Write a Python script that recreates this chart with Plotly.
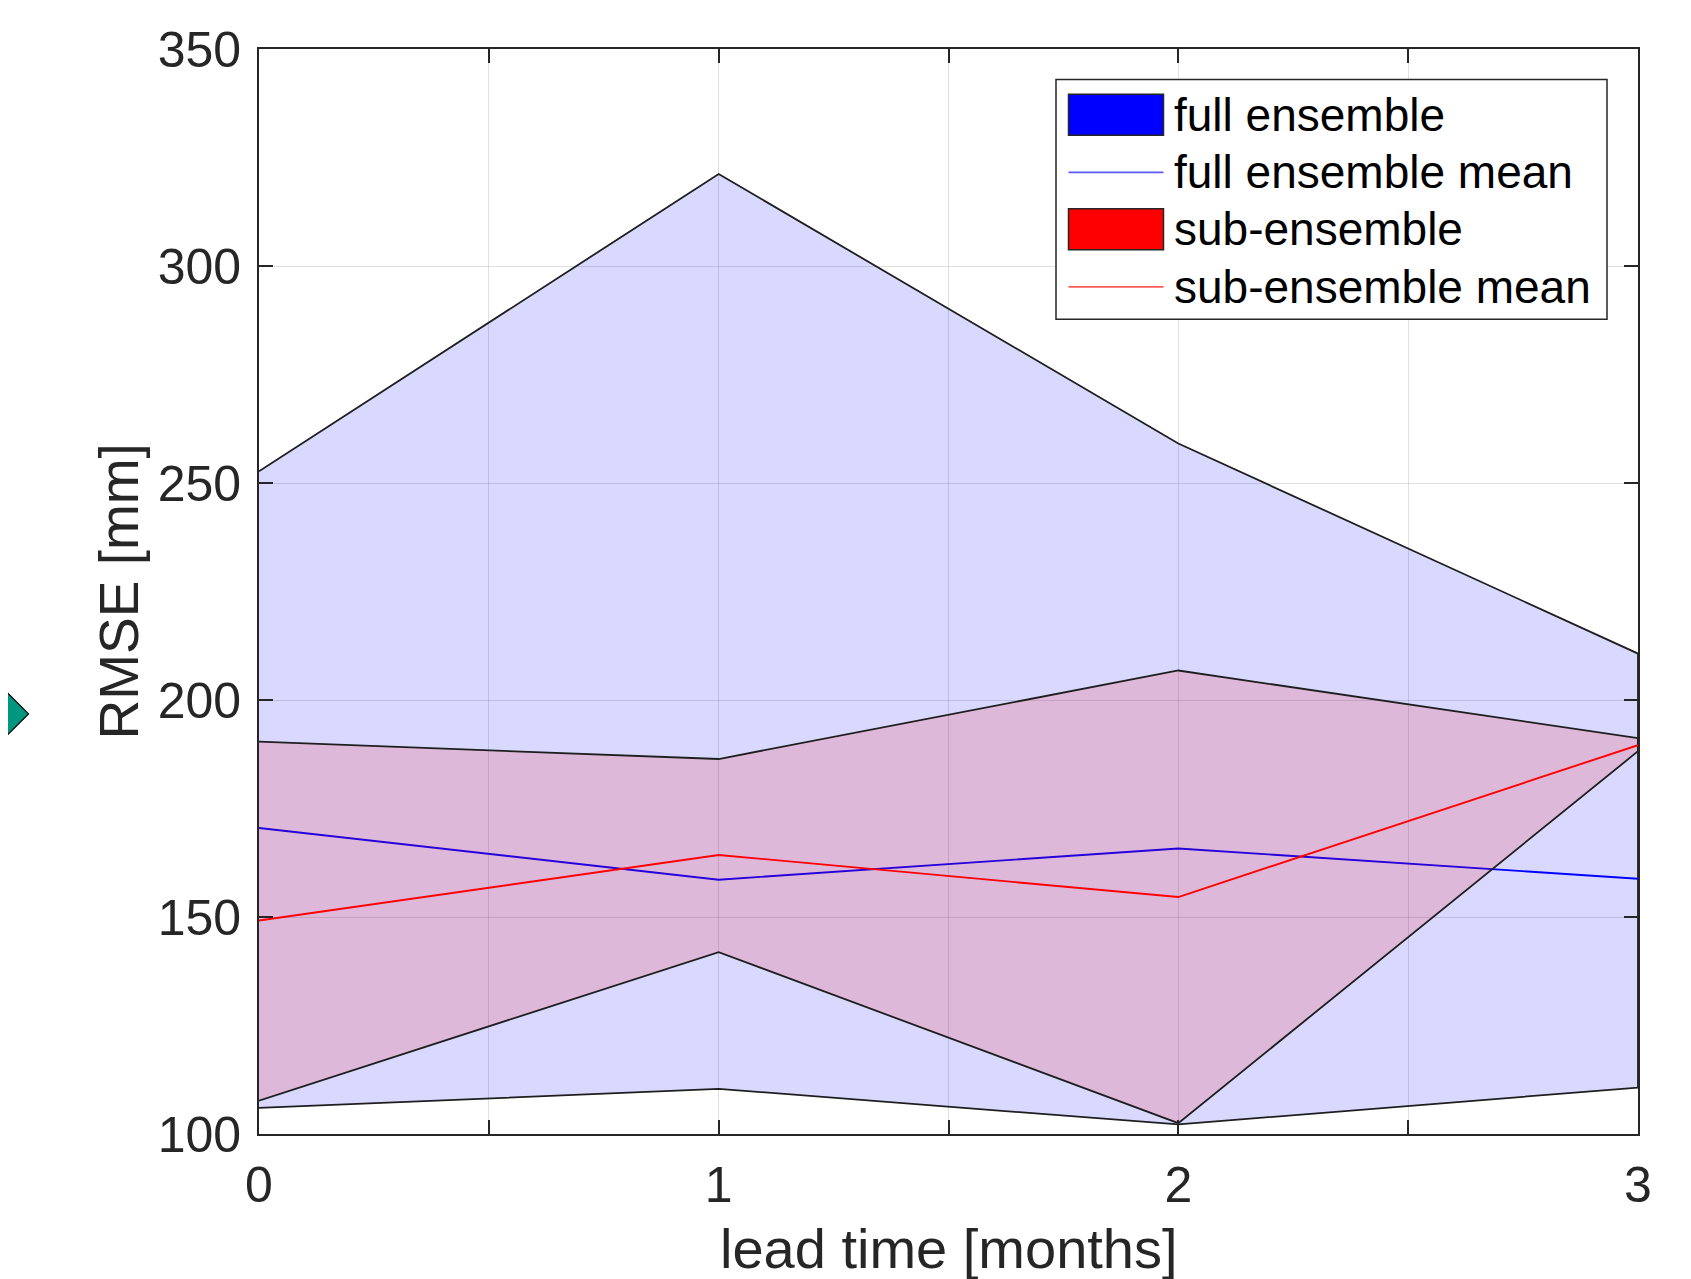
import plotly.graph_objects as go

# ---- data ----
lead_time = [0, 1, 2, 3]
full_upper = [252.7, 321.2, 259.1, 210.7]
full_lower = [106.0, 110.4, 102.2, 110.7]
full_mean = [170.5, 158.6, 165.8, 158.8]
sub_upper = [190.4, 186.4, 206.8, 191.2]
sub_lower = [107.7, 141.9, 102.5, 188.2]
sub_mean = [149.2, 164.3, 154.6, 189.6]

x_tickvals = [0, 0.5, 1, 1.5, 2, 2.5, 3]
x_ticktext = ["0", "", "1", "", "2", "", "3"]
y_tickvals = [100, 150, 200, 250, 300, 350]
legend_labels = ["full ensemble", "full ensemble mean", "sub-ensemble", "sub-ensemble mean"]

OFF = 8  # page body margin
W, H = 1691 - OFF, 1279 - OFF
# plot area in page pixel coordinates
L, R, T, B = 259, 1638, 48.5, 1134.5
FONT = "Liberation Sans, Arial, Helvetica, sans-serif"
TXT = "#262626"
EDGE = "rgba(30,30,30,1)"


def px(xp):
    return (xp - L) / (R - L)


def py(yp):
    return (B - yp) / (B - T)


fig = go.Figure()

# full ensemble spread
fig.add_trace(go.Scatter(
    x=lead_time + lead_time[::-1], y=full_upper + full_lower[::-1],
    fill="toself", fillcolor="rgba(0,0,255,0.15)", mode="lines",
    line=dict(color=EDGE, width=1.8), showlegend=False, hoverinfo="skip"))
fig.add_trace(go.Scatter(
    x=lead_time, y=full_mean, mode="lines",
    line=dict(color="rgb(0,0,255)", width=1.9), showlegend=False))
# sub-ensemble spread
fig.add_trace(go.Scatter(
    x=lead_time + lead_time[::-1], y=sub_upper + sub_lower[::-1],
    fill="toself", fillcolor="rgba(255,0,0,0.15)", mode="lines",
    line=dict(color=EDGE, width=1.8), showlegend=False, hoverinfo="skip"))
fig.add_trace(go.Scatter(
    x=lead_time, y=sub_mean, mode="lines",
    line=dict(color="rgb(255,0,0)", width=1.9), showlegend=False))

shapes = []
annotations = []

# manual legend (MATLAB style)
shapes.append(dict(type="rect", xref="paper", yref="paper",
                   x0=px(1056), x1=px(1607), y0=py(319), y1=py(79),
                   line=dict(color=TXT, width=1.5), fillcolor="white", layer="above"))
row_y = [114.3, 172.0, 229.0, 286.5]
for i, lab in enumerate(legend_labels):
    yc = row_y[i]
    if i in (0, 2):
        col = "rgb(0,0,255)" if i == 0 else "rgb(255,0,0)"
        shapes.append(dict(type="rect", xref="paper", yref="paper",
                           x0=px(1068.5), x1=px(1163.5), y0=py(yc + 20.5), y1=py(yc - 20.5),
                           line=dict(color=TXT, width=1.5), fillcolor=col, layer="above"))
    else:
        col = "rgba(90,90,255,1)" if i == 1 else "rgba(255,90,90,1)"
        shapes.append(dict(type="line", xref="paper", yref="paper",
                           x0=px(1068.5), x1=px(1163.5), y0=py(yc), y1=py(yc),
                           line=dict(color=col, width=1.8), layer="above"))
    annotations.append(dict(xref="paper", yref="paper", x=px(1172), y=py(yc),
                            xanchor="left", yanchor="middle", showarrow=False,
                            text=lab, font=dict(family=FONT, size=46, color="black")))

# axis titles
annotations.append(dict(xref="paper", yref="paper", x=0.5, y=py(1249),
                        xanchor="center", yanchor="middle", showarrow=False,
                        text="lead time [months]",
                        font=dict(family=FONT, size=56, color=TXT)))
annotations.append(dict(xref="paper", yref="paper", x=px(118), y=0.5,
                        xanchor="center", yanchor="middle", showarrow=False, textangle=-90,
                        text="RMSE [mm]",
                        font=dict(family=FONT, size=55, color=TXT)))

# green diamond fragment at the left edge of the picture
cx, cy, hw, hh = -1, 714, 29.5, 29.5
shapes.append(dict(type="path", xref="paper", yref="paper",
                   path=f"M {px(cx+hw)} {py(cy)} L {px(cx)} {py(cy-hh)} L {px(cx-hw)} {py(cy)} L {px(cx)} {py(cy+hh)} Z",
                   fillcolor="rgb(0,150,128)", line=dict(color="black", width=1.2), layer="above"))

axis_common = dict(
    showline=True, linecolor=TXT, linewidth=1.6, mirror="allticks",
    ticks="inside", ticklen=14, tickwidth=1.6, tickcolor=TXT,
    showgrid=True, gridcolor="rgba(38,38,38,0.14)", gridwidth=1,
    zeroline=False, tickfont=dict(family=FONT, size=50, color=TXT),
)

fig.update_layout(
    width=W, height=H,
    margin=dict(l=L - OFF, r=W - (R - OFF), t=T - OFF, b=H - (B - OFF), pad=0),
    paper_bgcolor="white", plot_bgcolor="white",
    showlegend=False,
    xaxis=dict(range=[0, 3], tickmode="array", tickvals=x_tickvals, ticktext=x_ticktext,
               ticklabelstandoff=6, **axis_common),
    yaxis=dict(range=[100, 350], tickmode="array", tickvals=y_tickvals,
               ticklabelstandoff=6, **axis_common),
    shapes=shapes, annotations=annotations,
)

fig.write_html("out.html")
